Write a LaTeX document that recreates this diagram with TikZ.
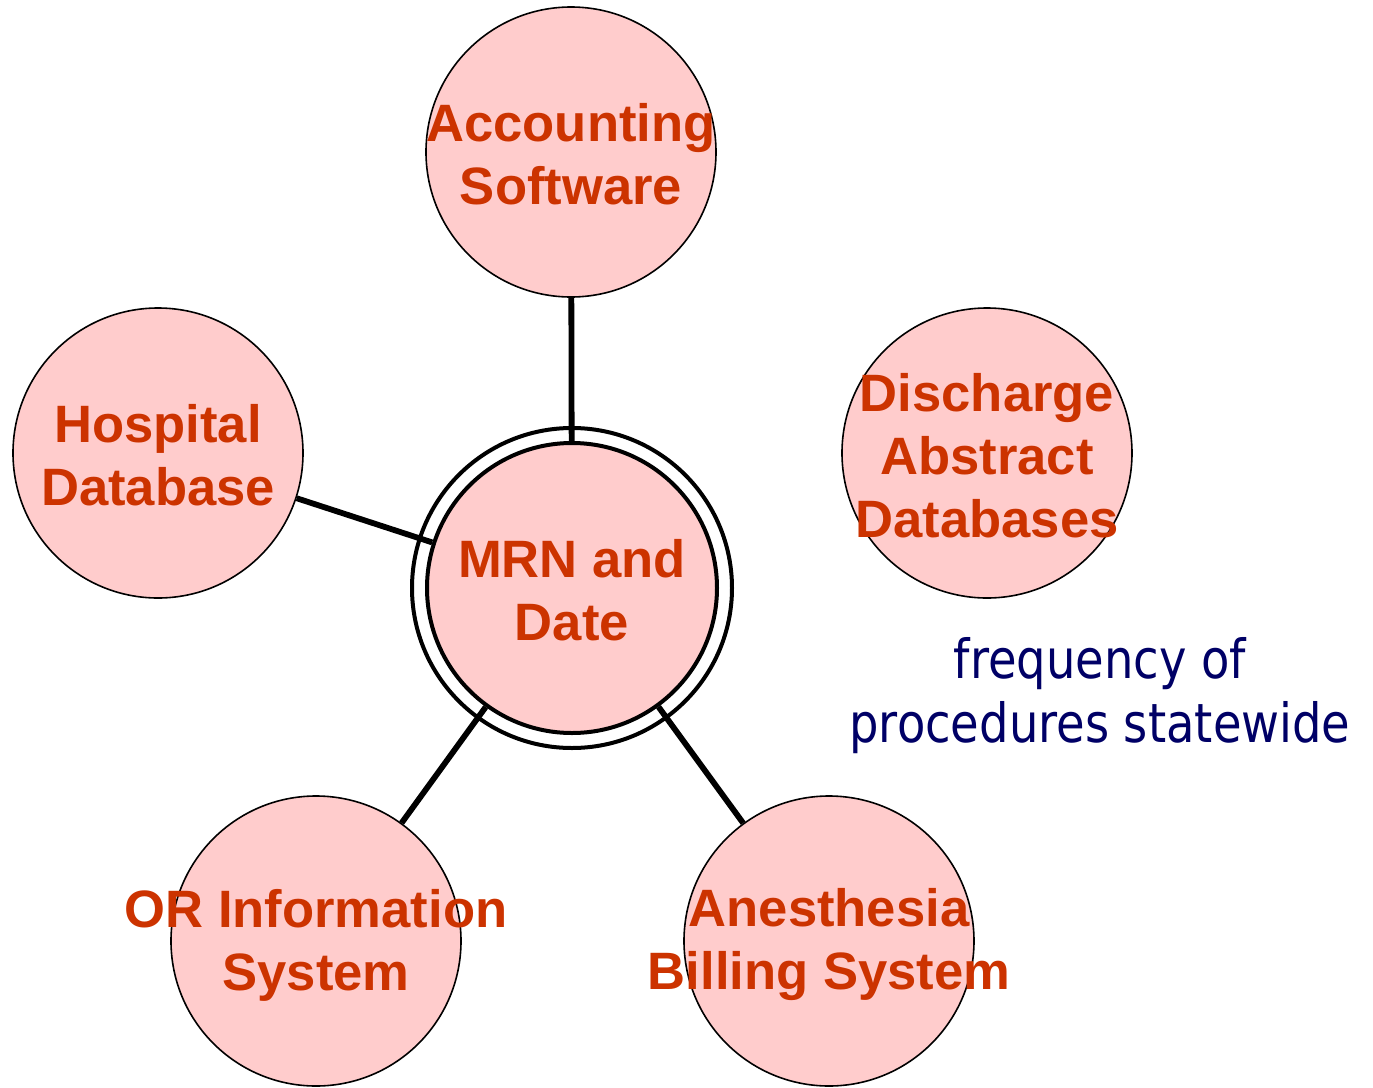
\documentclass[tikz,border=0pt]{standalone}
\usepackage{fontspec}
\setmainfont{Liberation Sans}
\newfontfamily\navyfont[FakeStretch=0.86]{DejaVu Sans}
\definecolor{labred}{HTML}{CC3300}
\definecolor{pinkfill}{HTML}{FFCCCC}
\definecolor{navytext}{HTML}{000066}
\begin{document}
\begin{tikzpicture}[x=0.5pt,y=-0.5pt,
  bubble/.style={circle,draw=black,fill=pinkfill,line width=0.8pt,minimum size=145pt,inner sep=0pt},
  hub/.style={circle,draw=black,fill=pinkfill,line width=2pt,minimum size=145pt,inner sep=0pt},
  ring/.style={circle,draw=black,line width=2pt,minimum size=160pt,inner sep=0pt},
  lbl/.style={text=labred,font=\fontsize{26.3pt}{31.5pt}\selectfont\bfseries,align=center,inner sep=0pt},
  note/.style={text=navytext,font=\navyfont\fontsize{27pt}{32pt}\selectfont,align=center,inner sep=0pt},
  link/.style={line width=2.9pt,draw=black}]
\useasboundingbox (0,0) rectangle (1373,1088);
\node[ring] (mrnring) at (572,588) {};
\node[hub] (mrn) at (572,588) {};
\node[bubble] (acc) at (571,152) {};
\node[bubble] (hosp) at (158,453) {};
\node[bubble] (disc) at (987,453) {};
\node[bubble] (orsys) at (316,941) {};
\node[bubble] (anes) at (829,941) {};
\draw[link] (acc) -- (mrn);
\draw[link] (hosp) -- (mrn);
\draw[link] (orsys) -- (mrn);
\draw[link] (anes) -- (mrn);
\node[lbl] (mrnt) at (572,590) {MRN and\\Date};
\node[lbl] (acct) at (571,154) {Accounting\\Software};
\node[lbl] (hospt) at (158,455) {Hospital\\Database};
\node[lbl] (disct) at (987,456) {Discharge\\Abstract\\Databases};
\node[lbl] (orsyst) at (316,945) {OR Information\\System};
\node[lbl] (anest) at (829,945) {Anesthesia\\Billing System};
\node[note] (freq) at (1100,696) {frequency of\\procedures statewide};
\end{tikzpicture}
\end{document}
